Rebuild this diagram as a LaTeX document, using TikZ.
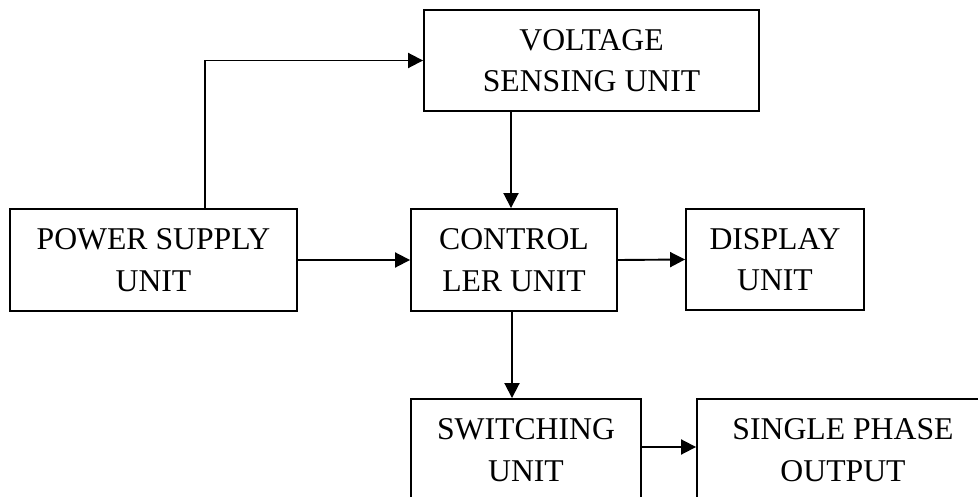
\documentclass[tikz,border=0pt]{standalone}
\usepackage{fontspec}
\setmainfont{Liberation Serif}
\usetikzlibrary{arrows.meta}
\tikzset{
  blk/.style={draw=black, line width=1.9pt, rectangle, align=center,
    inner sep=0pt, font=\fontsize{31.7}{41.4}\selectfont},
  arr/.style={draw=black, line width=1.9pt, -{Triangle[length=15pt,width=15pt]}}
}
\begin{document}
\begin{tikzpicture}[x=1pt,y=-1pt]
\useasboundingbox (0,0) rectangle (978,497);
\clip (0,0) rectangle (978,497);
\fill[white] (0,0) rectangle (978,497);
\node[blk, minimum width=335pt, minimum height=101pt] (volt) at (591.5,60.5) {VOLTAGE\\SENSING UNIT};
\node[blk, minimum width=287pt, minimum height=102pt] (power) at (153.5,260) {POWER SUPPLY\\UNIT};
\node[blk, minimum width=206pt, minimum height=102pt] (ctrl) at (514,260) {CONTROL\\LER UNIT};
\node[blk, minimum width=178pt, minimum height=101pt] (disp) at (775,259.5) {DISPLAY\\UNIT};
\node[blk, minimum width=230pt, minimum height=102pt] (sw) at (526,450) {SWITCHING\\UNIT};
\node[blk, minimum width=292pt, minimum height=102pt] (single) at (843,450) {SINGLE PHASE\\OUTPUT};
\coordinate (tap) at (205,60);
\coordinate (c1) at (511,0);
\coordinate (c2) at (512,0);
\coordinate (c3) at (0,447);
\draw[arr] (power.north -| tap) |- (volt.west);
\draw[arr] (volt.south -| c1) -- (ctrl.north -| c1);
\draw[arr] (power.east) -- (ctrl.west);
\draw[arr] (ctrl.east) -- (disp.west);
\draw[arr] (ctrl.south -| c2) -- (sw.north -| c2);
\draw[arr] (sw.east |- c3) -- (single.west |- c3);
\end{tikzpicture}
\end{document}
